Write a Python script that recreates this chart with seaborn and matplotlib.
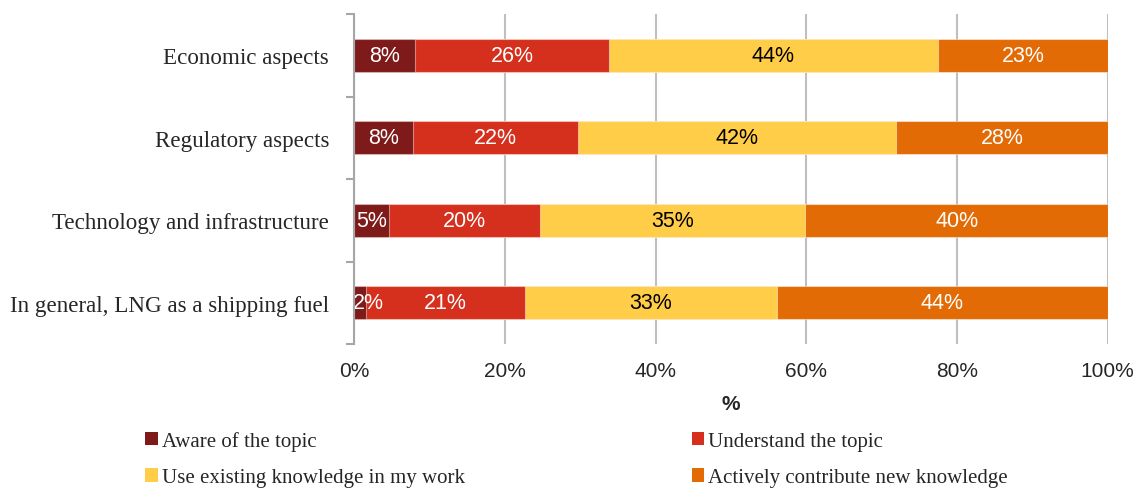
import matplotlib
matplotlib.use('Agg')
import matplotlib.pyplot as plt
import seaborn as sns
import pandas as pd
import numpy as np
from matplotlib.patches import Patch

# data (shares in %, each row sums to 100)
categories = ["Economic aspects", "Regulatory aspects",
              "Technology and infrastructure", "In general, LNG as a shipping fuel"]
levels = ["Aware of the topic", "Understand the topic",
          "Use existing knowledge in my work", "Actively contribute new knowledge"]
aware = [8.1, 7.8, 4.6, 1.6]
understand = [25.7, 21.9, 20.1, 21.1]
use_existing = [43.7, 42.2, 35.2, 33.4]
contribute = [22.6, 28.1, 40.1, 43.9]
labels = [["8%", "26%", "44%", "23%"],
          ["8%", "22%", "42%", "28%"],
          ["5%", "20%", "35%", "40%"],
          ["2%", "21%", "33%", "44%"]]

colors = ["#7E1A1A", "#D52F1E", "#FFCD48", "#E26B05"]
text_colors = ["white", "white", "black", "white"]

df = pd.DataFrame({"category": categories,
                   levels[0]: aware, levels[1]: understand,
                   levels[2]: use_existing, levels[3]: contribute})
cum = df[levels].cumsum(axis=1)

sns.set_style("white")
plt.rcParams['font.family'] = ['Liberation Sans', 'DejaVu Sans']

fig = plt.figure(figsize=(11.42, 4.89), dpi=100)
ax = fig.add_axes([0.31, 0.2945, 0.66, 0.6745])

# draw cumulative bars from the outermost layer inwards
for i in range(len(levels) - 1, -1, -1):
    sns.barplot(x=cum[levels[i]], y=df["category"], color=colors[i],
                width=0.4, edgecolor=(1, 1, 1, 0.45), linewidth=0.8,
                ax=ax, orient="h", saturation=1, zorder=3)

# segment labels
for r in range(len(categories)):
    for i in range(len(levels)):
        left = cum[levels[i]].iloc[r] - df[levels[i]].iloc[r]
        mid = left + df[levels[i]].iloc[r] / 2
        if df[levels[i]].iloc[r] < 3:
            mid = left + 1.9
        ax.text(mid, r, labels[r][i], ha="center", va="center",
                color=text_colors[i], fontsize=15.5, zorder=5)

ax.set_xlim(0, 100)
ax.set_ylim(len(categories) - 0.5, -0.5)
ax.set_xticks(np.arange(0, 101, 20))
ax.set_xticklabels([f"{v}%" for v in range(0, 101, 20)], fontsize=15)
ax.tick_params(axis="x", length=0, pad=12)
ax.xaxis.grid(True, color="#BFBFBF", linewidth=1.5, zorder=0)
ax.set_axisbelow(True)
ax.set_xlabel("%", fontsize=15, fontweight="bold", labelpad=10)
ax.set_ylabel("")

ax.set_yticks(range(len(categories)))
ax.set_yticklabels(categories, family=['Liberation Serif'], fontsize=16.6)
ax.set_yticks(np.arange(-0.5, len(categories), 1), minor=True)
ax.tick_params(axis="y", which="major", length=0, pad=18)
ax.tick_params(axis="y", which="minor", length=6, width=1.5, color="#A6A6A6", left=True)

for s in ["top", "right", "bottom"]:
    ax.spines[s].set_visible(False)
ax.spines["left"].set_color("#A6A6A6")
ax.spines["left"].set_linewidth(1.5)
ax.spines["left"].set_zorder(6)

# legend filled row by row, like the original
handles = [Patch(facecolor=c, edgecolor="none") for c in colors]
order = [0, 2, 1, 3]
fig.legend([handles[i] for i in order], [levels[i] for i in order],
           ncol=2, loc="upper left", bbox_to_anchor=(0.127, 0.117),
           frameon=False, prop={'family': 'Liberation Serif', 'size': 15},
           handlelength=0.6, handleheight=0.6, handletextpad=0.2,
           columnspacing=10.9, labelspacing=0.85, borderaxespad=0, borderpad=0)

fig.savefig("out.png", dpi=100, facecolor="white")
